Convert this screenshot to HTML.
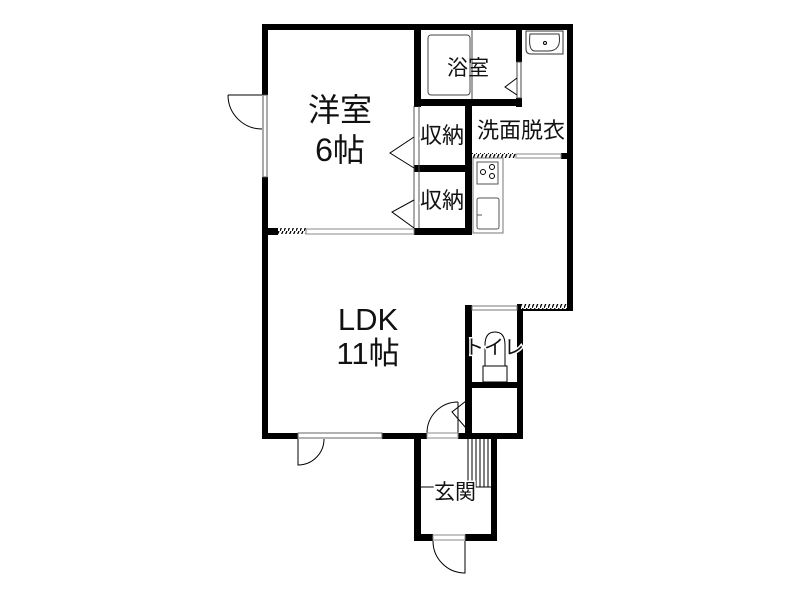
<!DOCTYPE html>
<html><head><meta charset="utf-8"><style>
html,body{margin:0;padding:0;background:#fff}
svg{display:block}
text{font-family:"Liberation Sans","Noto Sans CJK JP",sans-serif;fill:#111}
.halo{stroke:#fff;stroke-width:3;paint-order:stroke}
</style></head><body>
<svg width="800" height="600" viewBox="0 0 800 600" xmlns="http://www.w3.org/2000/svg">
<defs>
<pattern id="h" width="4" height="7" patternUnits="userSpaceOnUse"><rect width="4" height="7" fill="#fff"/><line x1="0" y1="7" x2="3" y2="0" stroke="#000" stroke-width="1.3"/></pattern>
</defs>
<g fill="#000">
<rect x="262" y="24" width="311" height="6"/>
<rect x="262" y="24" width="6" height="71"/>
<rect x="262" y="177" width="6" height="262"/>
<rect x="567" y="24" width="6" height="287"/>
<rect x="561" y="153" width="12" height="6"/>
<rect x="517" y="304" width="56" height="7"/>
<rect x="414" y="24" width="7" height="83"/>
<rect x="414" y="99" width="108" height="7"/>
<rect x="516" y="24" width="6" height="38"/>
<rect x="516" y="98" width="6" height="9"/>
<rect x="465" y="106" width="7" height="129"/>
<rect x="414" y="165" width="58" height="7"/>
<rect x="414" y="228" width="58" height="7"/>
<rect x="268" y="228" width="10" height="7"/>
<rect x="465" y="305" width="7" height="134"/>
<rect x="517" y="305" width="6" height="134"/>
<rect x="465" y="382" width="58" height="6"/>
<rect x="262" y="433" width="36" height="6"/>
<rect x="382" y="433" width="45" height="6"/>
<rect x="458" y="433" width="65" height="6"/>
<rect x="414" y="433" width="7" height="108"/>
<rect x="491" y="433" width="6" height="108"/>
<rect x="414" y="534" width="19" height="7"/>
<rect x="465" y="534" width="32" height="7"/>
</g>
<rect x="278" y="228" width="28" height="6" fill="url(#h)"/>
<rect x="472" y="153" width="44" height="5" fill="url(#h)"/>
<rect x="521" y="304" width="46" height="5" fill="url(#h)"/>
<g fill="none" stroke="#000" stroke-width="1">
<rect x="263" y="95" width="4" height="82" fill="#fff" stroke="#555"/>
<path d="M228 95 A34 34 0 0 0 262 129"/>
<line x1="228" y1="95" x2="262" y2="95"/>
<rect x="306" y="229" width="108" height="5" stroke="#888"/>
<rect x="428" y="35" width="42" height="60" rx="3" stroke="#444"/>
<line x1="472" y1="30" x2="472" y2="99" stroke="#444"/>
<rect x="517" y="62" width="4" height="36" stroke="#444" fill="#fff"/>
<path d="M517 78 L505 87 L517 95"/>
<path d="M526 31 L563 31 L563 54 L531 54 Q526 54 526 49 Z" stroke="#333"/>
<path d="M530 34 L559 34 Q562 51 548 51 L535 51 Q528 51 530 34 Z" stroke="#333"/>
<circle cx="545" cy="43" r="1.5"/>
<line x1="414" y1="106" x2="414" y2="228" stroke="#555"/>
<line x1="419" y1="106" x2="419" y2="228" stroke="#555"/>
<path d="M414 137 L390 153 L414 168"/>
<path d="M414 200 L392 212 L414 228"/>
<rect x="516" y="154" width="45" height="4" stroke="#888"/>
<rect x="473" y="158" width="30" height="75" stroke="#777"/>
<rect x="477" y="162" width="21" height="22" stroke="#555"/>
<circle cx="483" cy="172" r="2.5"/><circle cx="492" cy="167" r="2.5"/><circle cx="492" cy="176" r="2.5"/>
<rect x="477" y="198" width="22" height="31" rx="2" stroke="#555"/>
<line x1="477" y1="215" x2="482" y2="215" stroke="#555"/>
<rect x="472" y="306" width="45" height="4" stroke="#777"/>
<path d="M485 366 L485 345 Q485 332 495 332 Q505 332 505 345 L505 366"/>
<rect x="483" y="366" width="24" height="16"/>
<line x1="466" y1="388" x2="466" y2="433"/>
<line x1="471" y1="388" x2="471" y2="433"/>
<path d="M466 401 L452 412 L466 428"/>
<path d="M427 433 A31 31 0 0 1 458 402"/>
<line x1="458" y1="402" x2="458" y2="433"/>
<rect x="427" y="433" width="31" height="5" stroke="#888"/>
<rect x="298" y="433" width="84" height="5" stroke="#666"/>
<path d="M298 439 L298 465 A26 26 0 0 0 324 439"/>
<line x1="468" y1="439" x2="468" y2="487"/><line x1="472" y1="439" x2="472" y2="487"/>
<line x1="476" y1="439" x2="476" y2="487"/><line x1="480" y1="439" x2="480" y2="487"/>
<line x1="484" y1="439" x2="484" y2="487"/><line x1="488" y1="439" x2="488" y2="487"/>
<line x1="421" y1="487" x2="497" y2="487"/>
<rect x="433" y="535" width="32" height="5" stroke="#888"/>
<path d="M465 541 L465 573 A32 32 0 0 1 433 541"/>
</g>
<text x="340" y="121" font-size="32" text-anchor="middle">洋室</text>
<text x="340" y="161" font-size="32" text-anchor="middle">6帖</text>
<text x="368" y="330" font-size="31" text-anchor="middle">LDK</text>
<text x="368" y="364" font-size="31" text-anchor="middle">11帖</text>
<text x="468" y="75" font-size="21" text-anchor="middle">浴室</text>
<text x="442" y="143" font-size="22" text-anchor="middle" class="halo">収納</text>
<text x="442" y="208" font-size="22" text-anchor="middle" class="halo">収納</text>
<text x="521" y="138" font-size="22" text-anchor="middle" class="halo">洗面脱衣</text>
<text x="494" y="354" font-size="20" text-anchor="middle" class="halo">トイレ</text>
<text x="455" y="499" font-size="21" text-anchor="middle" class="halo">玄関</text>
</svg>
</body></html>
